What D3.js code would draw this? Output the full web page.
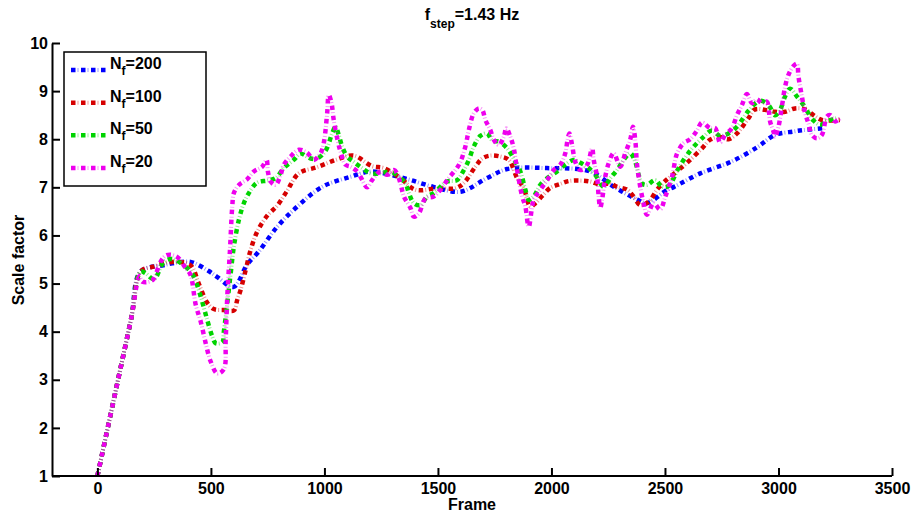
<!DOCTYPE html>
<html>
<head>
<meta charset="utf-8">
<script src="https://cdn.jsdelivr.net/npm/d3@7"></script>
<style>
  body { margin: 0; background: #fff; }
  text { font-family: "Liberation Sans", Arial, Helvetica, sans-serif; font-weight: bold; fill: #000; }
</style>
</head>
<body>
<svg id="chart" width="914" height="519"></svg>
<script>
// series data: [frame, scale factor]
const nf200 = [[0,1],[50,2.1],[100,3.2],[150,4.3],[190,5.25],[290,5.38],[330,5.42],[410,5.45],[490,5.26],[530,5.13],[600,4.93],[660,5.40],[710,5.66],[790,6.17],[880,6.60],[990,7.01],[1115,7.22],[1205,7.33],[1300,7.25],[1380,7.15],[1480,7.01],[1600,6.91],[1715,7.19],[1805,7.38],[1980,7.40],[2170,7.33],[2275,7.01],[2380,6.74],[2420,6.67],[2510,6.95],[2540,7.01],[2655,7.29],[2790,7.53],[2905,7.83],[2985,8.09],[3065,8.16],[3110,8.19],[3200,8.23]];

const nf100 = [[0,1],[50,2.1],[100,3.2],[150,4.3],[190,5.25],[245,5.35],[330,5.45],[410,5.38],[447,4.99],[484,4.60],[513,4.47],[557,4.45],[601,4.44],[616,4.66],[631,4.87],[653,5.28],[675,5.70],[704,6.08],[748,6.41],[792,6.62],[836,6.93],[887,7.29],[968,7.42],[1056,7.58],[1129,7.66],[1210,7.44],[1262,7.40],[1335,7.19],[1401,6.95],[1496,6.98],[1577,6.98],[1614,7.09],[1665,7.43],[1695,7.60],[1731,7.66],[1775,7.64],[1812,7.57],[1849,7.19],[1878,6.98],[1907,6.60],[1929,6.67],[1959,6.82],[1995,6.99],[2039,7.07],[2076,7.13],[2127,7.14],[2171,7.12],[2215,7.06],[2259,7.08],[2289,7.01],[2333,6.95],[2362,6.81],[2391,6.63],[2428,6.70],[2465,6.95],[2494,7.10],[2531,7.25],[2597,7.51],[2663,7.81],[2699,7.99],[2736,8.05],[2780,8.00],[2817,8.12],[2868,8.44],[2897,8.62],[2941,8.61],[2985,8.57],[3029,8.57],[3073,8.64],[3117,8.62],[3154,8.50],[3191,8.40],[3270,8.40]];

const nf50 = [[0,1],[50,2.1],[100,3.2],[150,4.3],[190,5.25],[213,5.21],[249,5.09],[293,5.45],[330,5.51],[396,5.32],[425,5.14],[455,4.73],[484,4.24],[506,3.90],[521,3.76],[550,3.78],[557,4.00],[572,4.59],[587,5.21],[601,5.77],[623,6.32],[645,6.67],[667,6.88],[704,7.10],[748,7.14],[785,7.19],[821,7.40],[865,7.57],[895,7.70],[939,7.60],[968,7.60],[1005,7.76],[1034,8.12],[1049,8.26],[1063,8.09],[1078,7.85],[1100,7.64],[1129,7.53],[1166,7.40],[1203,7.29],[1247,7.29],[1291,7.33],[1327,7.22],[1357,7.08],[1372,6.88],[1394,6.67],[1423,6.63],[1452,6.81],[1481,6.88],[1540,7.12],[1584,7.15],[1614,7.36],[1636,7.57],[1658,7.85],[1687,8.07],[1716,8.12],[1740,7.97],[1768,7.95],[1805,7.81],[1841,7.53],[1863,7.33],[1885,6.95],[1900,6.74],[1922,6.81],[1951,7.05],[1981,7.19],[2025,7.33],[2061,7.47],[2098,7.57],[2127,7.51],[2164,7.40],[2193,7.26],[2230,7.01],[2259,7.19],[2289,7.36],[2318,7.57],[2347,7.71],[2369,7.53],[2384,7.26],[2399,7.08],[2421,7.05],[2457,7.15],[2487,7.01],[2516,7.03],[2560,7.40],[2611,7.76],[2670,8.05],[2707,8.18],[2743,8.07],[2780,8.12],[2817,8.26],[2868,8.59],[2919,8.80],[2956,8.71],[2985,8.50],[3007,8.61],[3029,8.89],[3051,9.05],[3081,8.89],[3110,8.71],[3132,8.54],[3154,8.39],[3183,8.30],[3213,8.37],[3265,8.45]];

const nf20 = [[0,1],[50,2.1],[100,3.2],[150,4.3],[185,5.15],[198,5.04],[242,5.07],[279,5.46],[305,5.59],[349,5.56],[389,5.32],[410,5.18],[433,4.56],[455,4.21],[477,3.76],[499,3.38],[528,3.13],[557,3.22],[565,3.83],[572,4.73],[584,5.70],[594,6.60],[601,6.88],[623,7.05],[660,7.17],[689,7.33],[726,7.43],[745,7.57],[751,7.33],[763,7.12],[785,7.05],[807,7.26],[821,7.47],[851,7.64],[887,7.78],[924,7.72],[953,7.57],[983,7.71],[997,7.92],[1012,8.54],[1019,8.92],[1030,8.78],[1041,8.40],[1056,8.02],[1071,7.74],[1093,7.47],[1115,7.43],[1144,7.33],[1159,7.22],[1188,7.00],[1210,7.15],[1247,7.33],[1276,7.26],[1306,7.36],[1320,7.29],[1335,7.08],[1350,6.81],[1379,6.57],[1394,6.39],[1416,6.46],[1445,6.77],[1481,6.81],[1511,6.95],[1547,7.19],[1577,7.36],[1599,7.53],[1621,7.85],[1636,8.19],[1658,8.54],[1680,8.64],[1695,8.61],[1709,8.40],[1731,8.19],[1746,7.99],[1768,7.88],[1790,8.05],[1801,8.23],[1819,8.05],[1834,7.81],[1849,7.36],[1871,6.81],[1885,6.60],[1900,6.18],[1922,6.74],[1951,6.95],[1981,7.15],[2010,7.36],[2039,7.47],[2061,7.71],[2071,7.99],[2079,8.12],[2091,7.88],[2105,7.53],[2127,7.36],[2157,7.47],[2179,7.81],[2186,7.57],[2201,7.22],[2208,6.81],[2215,6.57],[2223,6.74],[2237,7.22],[2252,7.50],[2274,7.71],[2303,7.43],[2325,7.71],[2347,7.99],[2359,8.26],[2369,7.99],[2377,7.47],[2391,7.01],[2406,6.67],[2421,6.43],[2450,6.67],[2479,6.54],[2501,6.80],[2531,7.22],[2553,7.70],[2582,7.92],[2611,8.00],[2641,8.18],[2663,8.35],[2699,8.23],[2721,8.23],[2743,7.93],[2765,8.09],[2795,8.23],[2817,8.50],[2839,8.71],[2861,8.94],[2883,8.75],[2905,8.83],[2927,8.75],[2949,8.78],[2963,8.37],[2978,8.16],[2985,8.05],[3000,8.26],[3015,8.68],[3029,9.09],[3044,9.34],[3066,9.52],[3081,9.57],[3088,9.30],[3103,8.89],[3117,8.54],[3132,8.33],[3147,8.09],[3169,8.02],[3191,8.09],[3213,8.47],[3228,8.50],[3250,8.37],[3279,8.47]];

const seriesNames = ['200', '100', '50', '20'];
const seriesColors = ['#0000ff', '#d60000', '#00d400', '#ee00ee'];
const seriesData = [nf200, nf100, nf50, nf20];

const xTicks = [0, 500, 1000, 1500, 2000, 2500, 3000, 3500];
const yTicks = [1, 2, 3, 4, 5, 6, 7, 8, 9, 10];

const svg = d3.select('#chart');

const x = d3.scaleLinear().domain([-200, 3500]).range([52, 892]);
const y = d3.scaleLinear().domain([1, 10]).range([476, 43]);

const line = d3.line()
  .x(d => x(d[0]))
  .y(d => y(d[1]))
  .curve(d3.curveCatmullRom.alpha(0.5));

// dash-dot look: faint thin bars under bold squares
function drawStyled(g, pathD, color) {
  g.append('path').attr('d', pathD).attr('fill', 'none')
    .attr('stroke', color).attr('stroke-width', 4).attr('stroke-opacity', 0.4)
    .attr('stroke-dasharray', '0,6.5,1,2.5');
  g.append('path').attr('d', pathD).attr('fill', 'none')
    .attr('stroke', color).attr('stroke-width', 4.5)
    .attr('stroke-dasharray', '4.5,5.5');
}

const plot = svg.append('g');
seriesData.forEach((data, i) => {
  drawStyled(plot, line(data), seriesColors[i]);
});

// axes
const xAxis = svg.append('g')
  .attr('transform', 'translate(0,476)')
  .call(d3.axisBottom(x).tickValues(xTicks).tickFormat(d3.format('d'))
    .tickSizeInner(-8).tickSizeOuter(0).tickPadding(7));
const yAxis = svg.append('g')
  .attr('transform', 'translate(52,0)')
  .call(d3.axisLeft(y).tickValues(yTicks).tickFormat(d3.format('d'))
    .tickSizeInner(-8).tickSizeOuter(0).tickPadding(4));

[xAxis, yAxis].forEach(a => {
  a.attr('font-size', 16);
  a.select('.domain').attr('stroke', '#000').attr('stroke-width', 2);
  a.selectAll('.tick line').attr('stroke', '#000').attr('stroke-width', 2);
  a.selectAll('.tick text').attr('font-size', 16)
    .style('font-family', '"Liberation Sans", Arial, sans-serif').style('font-weight', 'bold');
});
// no ticks at x=-200
xAxis.select('.domain').attr('d', 'M52,0H892');

// titles
const title = svg.append('text').attr('x', 472).attr('y', 20)
  .attr('text-anchor', 'middle').attr('font-size', 16);
title.append('tspan').text('f');
title.append('tspan').attr('font-size', 12).attr('dy', 8).text('step');
title.append('tspan').attr('dy', -8).text('=1.43 Hz');

svg.append('text').attr('x', 472).attr('y', 510)
  .attr('text-anchor', 'middle').attr('font-size', 16).text('Frame');

svg.append('text')
  .attr('transform', 'translate(24,260) rotate(-90)')
  .attr('text-anchor', 'middle').attr('font-size', 16).text('Scale factor');

// legend
const legend = svg.append('g');
legend.append('rect').attr('x', 64).attr('y', 52).attr('width', 142).attr('height', 134)
  .attr('fill', '#fff').attr('stroke', '#000').attr('stroke-width', 1.5);

const legendY = d3.scalePoint().domain(seriesNames).range([70, 168]);
seriesNames.forEach((name, i) => {
  const ly = legendY(name);
  drawStyled(legend, `M71,${ly}H107`, seriesColors[i]);
  const t = legend.append('text').attr('x', 110).attr('y', ly - 1).attr('font-size', 16);
  t.append('tspan').text('N');
  t.append('tspan').attr('font-size', 12).attr('dy', 6).text('f');
  t.append('tspan').attr('dy', -6).text('=' + name);
});
</script>
</body>
</html>
